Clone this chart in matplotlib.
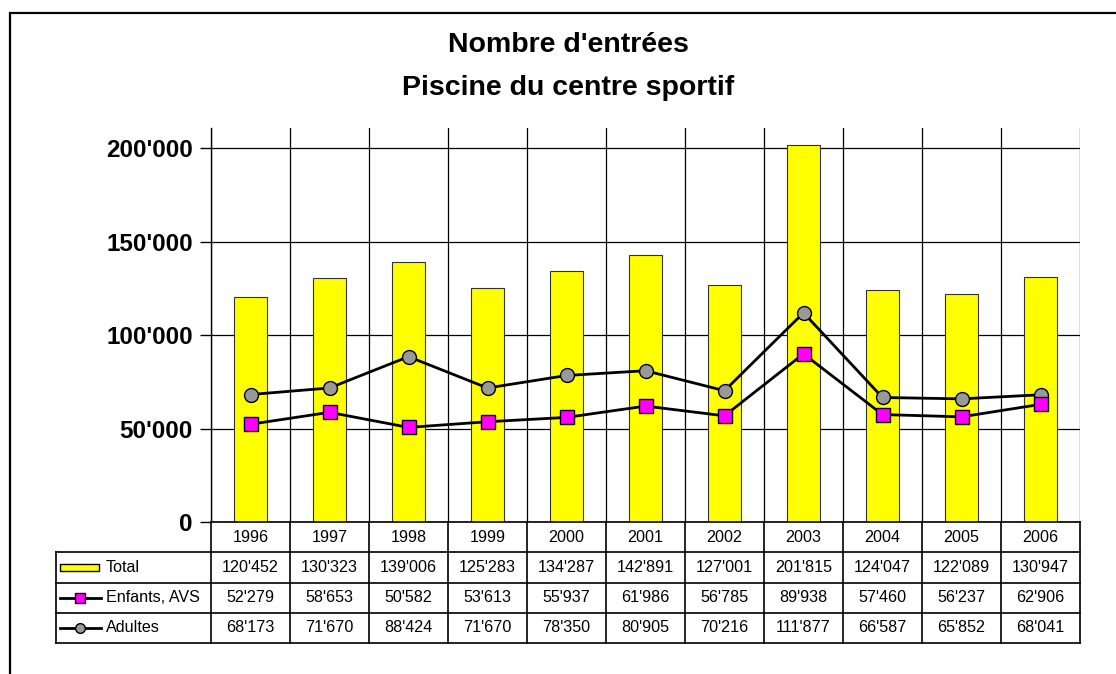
import matplotlib
matplotlib.use('Agg')
import matplotlib.pyplot as plt
import matplotlib.ticker as mtick
from matplotlib.patches import Rectangle
from matplotlib.lines import Line2D

plt.rcParams['font.family'] = ['Liberation Sans', 'DejaVu Sans']

years = ['1996', '1997', '1998', '1999', '2000', '2001', '2002', '2003', '2004', '2005', '2006']
total = [120452, 130323, 139006, 125283, 134287, 142891, 127001, 201815, 124047, 122089, 130947]
enfants = [52279, 58653, 50582, 53613, 55937, 61986, 56785, 89938, 57460, 56237, 62906]
adultes = [68173, 71670, 88424, 71670, 78350, 80905, 70216, 111877, 66587, 65852, 68041]

W, H = 1116, 674


def fig_box(x0, y0, x1, y1):
    # pixel box (top-left origin) -> figure coords
    return [x0 / W, 1 - y1 / H, (x1 - x0) / W, (y1 - y0) / H]


def fmt(v):
    return '{:,}'.format(int(v)).replace(',', "'")


fig = plt.figure(figsize=(W / 100, H / 100), dpi=100)

# outer frame
fig.patches.append(Rectangle((10 / W, -0.1), 1.2, 1 - 13 / H + 0.1, transform=fig.transFigure,
                             fill=False, edgecolor='black', lw=1.6, clip_on=False))

fig.text(568 / W, 1 - 45 / H, "Nombre d'entrées", ha='center', va='center', fontsize=20.5, fontweight='bold')
fig.text(568 / W, 1 - 88 / H, 'Piscine du centre sportif', ha='center', va='center', fontsize=20.5, fontweight='bold')

# main plot
ax = fig.add_axes(fig_box(211, 128, 1080, 522))
x = list(range(len(years)))
ax.bar(x, total, width=0.42, color='#FFFF00', edgecolor='#333333', linewidth=0.8, zorder=2)
ax.plot(x, adultes, color='black', lw=2, marker='o', markersize=10,
        markerfacecolor='#999999', markeredgecolor='black', markeredgewidth=1, zorder=3)
ax.plot(x, enfants, color='black', lw=2, marker='s', markersize=10,
        markerfacecolor='#FF00FF', markeredgecolor='black', markeredgewidth=1, zorder=3)

ax.set_xlim(-0.5, len(years) - 0.5)
ax.set_ylim(0, 210700)
ax.yaxis.set_major_locator(mtick.MultipleLocator(50000))
ax.yaxis.set_major_formatter(mtick.FuncFormatter(lambda v, p: fmt(v)))
ax.set_xticks([i + 0.5 for i in range(-1, len(years))], minor=False)
ax.tick_params(axis='x', length=0, labelbottom=False)
ax.tick_params(axis='y', length=8, width=1, direction='out', pad=5, labelsize=17.5)
for lab in ax.get_yticklabels():
    lab.set_fontweight('bold')
ax.grid(True, color='black', lw=0.9, zorder=0)
ax.set_axisbelow(True)
for s in ['top', 'right', 'bottom']:
    ax.spines[s].set_visible(False)
ax.spines['left'].set_linewidth(1)

# data table
n = len(years)
legw = 155 / 79
tx = fig.add_axes(fig_box(56, 522, 1080, 643))
tx.set_xlim(-0.5 - legw, n - 0.5)
tx.set_ylim(4, 0)
tx.axis('off')
lc = 'black'
tx.plot([-0.5, n - 0.5], [0, 0], color=lc, lw=1.2, clip_on=False)
for r in [1, 2, 3, 4]:
    tx.plot([-0.5 - legw, n - 0.5], [r, r], color=lc, lw=1.2, clip_on=False)
tx.plot([-0.5 - legw, -0.5 - legw], [1, 4], color=lc, lw=1.2, clip_on=False)
for i in range(n + 1):
    tx.plot([i - 0.5, i - 0.5], [0, 4], color=lc, lw=1.2, clip_on=False)

fs = 11.6
for i, yr in enumerate(years):
    tx.text(i, 0.5, yr, ha='center', va='center', fontsize=fs)
    tx.text(i, 1.5, fmt(total[i]), ha='center', va='center', fontsize=fs)
    tx.text(i, 2.5, fmt(enfants[i]), ha='center', va='center', fontsize=fs)
    tx.text(i, 3.5, fmt(adultes[i]), ha='center', va='center', fontsize=fs)

x0 = -0.5 - legw
u = 1 / 79
tx.add_patch(Rectangle((x0 + 4 * u, 1.38), 39 * u, 0.24, facecolor='#FFFF00', edgecolor='black', lw=1))
tx.add_line(Line2D([x0 + 4 * u, x0 + 45 * u], [2.5, 2.5], color='black', lw=2))
tx.plot([x0 + 24 * u], [2.5], marker='s', markersize=7, markerfacecolor='#FF00FF', markeredgecolor='black')
tx.add_line(Line2D([x0 + 4 * u, x0 + 45 * u], [3.5, 3.5], color='black', lw=2))
tx.plot([x0 + 24 * u], [3.5], marker='o', markersize=7, markerfacecolor='#999999', markeredgecolor='black')
tx.text(x0 + 50 * u, 1.5, 'Total', ha='left', va='center', fontsize=fs)
tx.text(x0 + 50 * u, 2.5, 'Enfants, AVS', ha='left', va='center', fontsize=fs)
tx.text(x0 + 50 * u, 3.5, 'Adultes', ha='left', va='center', fontsize=fs)

fig.savefig('out.png', dpi=100)
